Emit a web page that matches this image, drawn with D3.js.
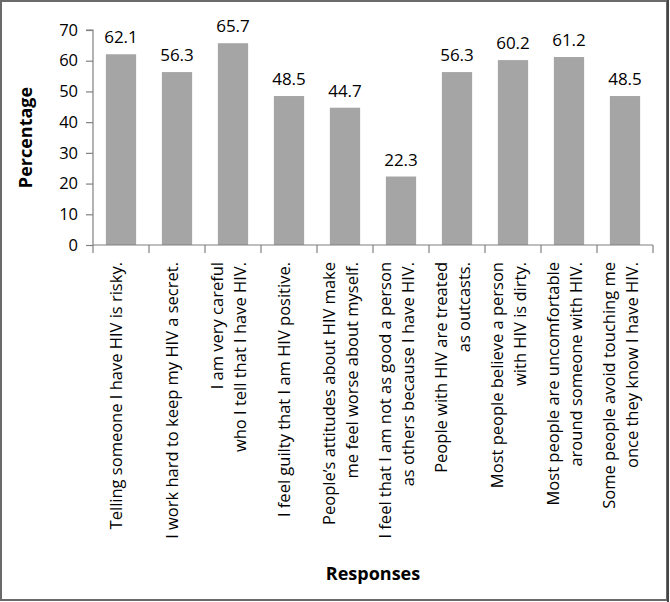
<!DOCTYPE html>
<html>
<head>
<meta charset="utf-8">
<script src="https://cdn.jsdelivr.net/npm/d3@7/dist/d3.min.js"></script>
<style>
  html, body { margin: 0; padding: 0; background: #fff; }
  svg { display: block; }
  text { font-family: "Open Sans", "Noto Sans", sans-serif; fill: #000; }
</style>
</head>
<body>
<svg id="chart" width="670" height="602"></svg>
<script>
const categories = [
  ["Telling someone I have HIV is risky."],
  ["I work hard to keep my HIV a secret."],
  ["I am very careful", "who I tell that I have HIV."],
  ["I feel guilty that I am HIV positive."],
  ["People\u2019s attitudes about HIV make", "me feel worse about myself."],
  ["I feel that I am not as good a person", "as others because I have HIV."],
  ["People with HIV are treated", "as outcasts."],
  ["Most people believe a person", "with HIV is dirty."],
  ["Most people are uncomfortable", "around someone with HIV."],
  ["Some people avoid touching me", "once they know I have HIV."]
];
const values = [62.1, 56.3, 65.7, 48.5, 44.7, 22.3, 56.3, 60.2, 61.2, 48.5];
const yTicks = [0, 10, 20, 30, 40, 50, 60, 70];
const yTitle = "Percentage";
const xTitle = "Responses";

const svg = d3.select("#chart");
const mLeft = 93, mRight = 653, mTop = 30, mBottom = 245;

// frame
svg.append("rect").attr("x", 1).attr("y", 1).attr("width", 666).attr("height", 599)
  .attr("fill", "none").attr("stroke", "#6a6a6a").attr("stroke-width", 2);
svg.append("line").attr("x1", 668).attr("x2", 668).attr("y1", 0).attr("y2", 602)
  .attr("stroke", "#444").attr("stroke-width", 2);

const idx = categories.map((d, i) => i);
const x = d3.scaleBand().domain(idx).range([mLeft, mRight]).paddingInner(0.46).paddingOuter(0.23);
const xTick = d3.scaleBand().domain(idx).range([mLeft, mRight]);
const y = d3.scaleLinear().domain([0, 70]).range([mBottom, mTop]);

// bars
svg.append("g").selectAll("rect").data(values).join("rect")
  .attr("x", (d, i) => x(i))
  .attr("width", x.bandwidth())
  .attr("y", d => y(d))
  .attr("height", d => y(0) - y(d))
  .attr("fill", "#a5a5a5");

// value labels
svg.append("g").selectAll("text").data(values).join("text")
  .attr("x", (d, i) => x(i) + x.bandwidth() / 2)
  .attr("y", d => y(d) - 11)
  .attr("text-anchor", "middle")
  .attr("font-size", 17)
  .text(d => d.toFixed(1));

// y axis
const yAxis = d3.axisLeft(y).tickValues(yTicks).tickSize(7).tickPadding(8).tickFormat(d3.format("d"));
const gy = svg.append("g").attr("transform", `translate(${mLeft},0)`).call(yAxis);
gy.select(".domain").attr("stroke", "#808080").attr("stroke-width", 1.2).attr("d", `M-7,${mTop}H0V${mBottom}`);
gy.selectAll(".tick line").attr("stroke", "#808080").attr("stroke-width", 1.2);
gy.selectAll(".tick text").attr("font-size", 16.5).attr("font-family", '"Open Sans", sans-serif').attr("fill", "#000");

// x axis line + ticks
const gx = svg.append("g");
gx.append("line").attr("x1", mLeft).attr("x2", mRight).attr("y1", mBottom).attr("y2", mBottom)
  .attr("stroke", "#808080").attr("stroke-width", 1.2);
const tickPos = idx.map(i => xTick(i)).concat([mRight]);
gx.selectAll("line.t").data(tickPos).join("line").attr("class", "t")
  .attr("x1", d => d).attr("x2", d => d).attr("y1", mBottom).attr("y2", mBottom + 8)
  .attr("stroke", "#808080").attr("stroke-width", 1.2);

// category labels (rotated)
const lineH = 23;
const lab = svg.append("g").selectAll("g").data(categories).join("g")
  .attr("transform", (d, i) => `translate(${xTick(i) + xTick.bandwidth() / 2},262) rotate(-90)`);
lab.each(function (lines) {
  const g = d3.select(this);
  const n = lines.length;
  lines.forEach((t, k) => {
    g.append("text")
      .attr("x", 0)
      .attr("y", (k - (n - 1) / 2) * lineH + 1)
      .attr("text-anchor", "end")
      .attr("font-size", 16.5)
      .text(t);
  });
});

// axis titles
svg.append("text")
  .attr("transform", `translate(32,${(mTop + mBottom) / 2}) rotate(-90)`)
  .attr("text-anchor", "middle")
  .attr("font-size", 18).attr("font-weight", "bold")
  .text(yTitle);
svg.append("text")
  .attr("x", (mLeft + mRight) / 2).attr("y", 580)
  .attr("text-anchor", "middle")
  .attr("font-size", 18).attr("font-weight", "bold")
  .text(xTitle);
</script>
</body>
</html>
